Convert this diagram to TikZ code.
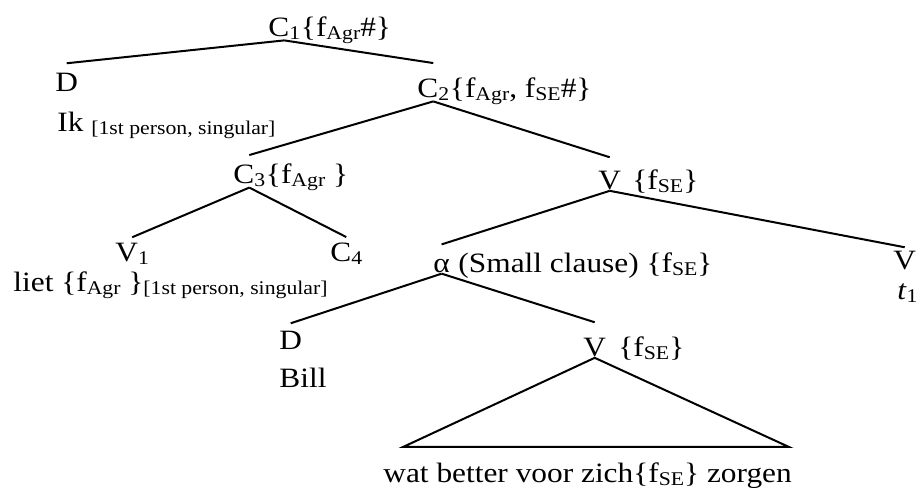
\documentclass[tikz,border=0pt]{standalone}
\usepackage{fontspec}
\setmainfont{Liberation Serif}[FakeStretch=1.12]
\usetikzlibrary{positioning}
\newcommand{\lo}[1]{\raisebox{-1.5pt}{\fontsize{9.7}{10}\selectfont #1}}

\begin{document}
\begin{tikzpicture}[x=0.5pt,y=-0.5pt,
    lbl/.style={inner sep=0pt,anchor=base west,font=\fontsize{14}{16}\selectfont},
    branch/.style={line width=1pt}
  ]
  \useasboundingbox (0,0) rectangle (916,491);
  % top
  \node[lbl] (c1) at (268,37) {C\lo{1}};
  \node[lbl] (c1f) at (c1.base east) {\{f\lo{Agr}\#\}};
  \node[lbl] (d) at (55,92) {D};
  \node[lbl] (ik) at (57,132) {Ik \lo{[1st person, singular]}};
  \node[lbl] (c2) at (417,98) {C\lo{2}};
  \node[lbl] (c2f) at (c2.base east) {\{f\lo{Agr}, f\lo{SE}\#\}};
  % middle
  \node[lbl] (c3) at (233,184) {C\lo{3}};
  \node[lbl] (c3f) at (c3.base east) {\{f\lo{Agr} \}};
  \node[lbl] (vp) at (598,190) {V};
  \node[lbl] (vpf) at (632,190) {\{f\lo{SE}\}};
  \node[lbl] (v1) at (115,262) {V\lo{1}};
  \node[lbl] (c4) at (330,262) {C\lo{4}};
  \node[lbl] (liet) at (13,292) {liet \{f\lo{Agr} \}\lo{[1st person, singular]}};
  \node[lbl] (sc) at (433,273) {α};
  \node[lbl] (scf) at (sc.base east) {\ (Small clause) \{f\lo{SE}\}};
  \node[lbl] (vt) at (893,270) {V};
  \node[lbl] (t1) at (897,300) {\textit{t}\lo{1}};
  % bottom
  \node[lbl] (db) at (279,350) {D};
  \node[lbl] (bill) at (279,388) {Bill};
  \node[lbl] (vl) at (583,357) {V};
  \node[lbl] (vlf) at (618,357) {\{f\lo{SE}\}};
  \node[lbl] (wat) at (383,483) {wat better voor zich\{f\lo{SE}\} zorgen};
  \coordinate (tl) at (403,447);
  \coordinate (tr) at (789,447);

  \draw[branch] (c1.south) -- ([yshift=5pt]d.north);
  \draw[branch] (c1.south) -- ([yshift=8pt]c2.north);
  \draw[branch] (c2.south) -- ([yshift=5pt]c3.north);
  \draw[branch] (c2.south) -- ([yshift=7pt]vp.north);
  \draw[branch] (c3.south) -- ([yshift=3pt]v1.north);
  \draw[branch] (c3.south) -- ([yshift=3pt]c4.north);
  \draw[branch] (vp.south) -- ([yshift=7.5pt]sc.north);
  \draw[branch] (vp.south) -- ([yshift=2pt]vt.north);
  \draw[branch] (sc.south) -- ([yshift=4pt]db.north);
  \draw[branch] (sc.south) -- ([yshift=8pt]vl.north);
  \draw[branch] (tl) -- (vl.south) -- (tr) -- cycle;
\end{tikzpicture}
\end{document}
